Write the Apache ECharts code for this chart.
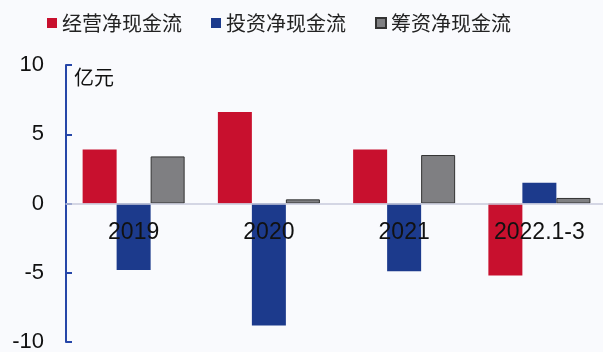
<!DOCTYPE html>
<html><head><meta charset="utf-8">
<script src="https://cdn.jsdelivr.net/npm/echarts@6/dist/echarts.min.js"></script>
<style>html,body{margin:0;padding:0;background:#f9fafd;}#c{width:603px;height:352px;}</style>
</head><body><div id="c"></div>
<script>
const categories = ['2019', '2020', '2021', '2022.1-3'];
const operating = [3.9, 6.6, 3.9, -5.2];
const investing = [-4.8, -8.8, -4.9, 1.5];
const financing = [3.4, 0.3, 3.5, 0.4];
const seriesNames = ['经营净现金流', '投资净现金流', '筹资净现金流'];
const yTicks = [-10, -5, 0, 5, 10];

const chart = echarts.init(document.getElementById('c'));
const font = '"Liberation Sans", Arial, sans-serif';
const cjk = '"Noto Sans CJK SC", sans-serif';
chart.setOption({
  backgroundColor: '#f9fafd',
  animation: false,
  legend: {
    left: 42, top: 8, itemWidth: 10, itemHeight: 10, itemGap: 29,
    icon: 'rect',
    textStyle: { fontFamily: cjk, fontSize: 20, color: '#222' },
    data: seriesNames
  },
  grid: { left: 66, top: 65, width: 541, height: 277, containLabel: false, outerBoundsMode: 'none' },
  xAxis: {
    type: 'category', data: categories, position: 'bottom', offset: -138.5, z: 10,
    axisLine: { onZero: false, lineStyle: { color: '#c8cadc', width: 1.5 } },
    axisTick: { show: false },
    axisLabel: { fontFamily: font, fontSize: 23, color: '#111', margin: 18 }
  },
  yAxis: {
    type: 'value', min: yTicks[0], max: yTicks[yTicks.length - 1], interval: 5,
    name: '亿元', nameLocation: 'end', nameGap: -22,
    nameTextStyle: { fontFamily: cjk, fontSize: 20, color: '#111', align: 'left', padding: [0, 0, 0, 8] },
    axisLine: { show: true, lineStyle: { color: '#2646a8', width: 2 } },
    axisTick: { show: true, inside: true, length: 6, lineStyle: { color: '#2646a8', width: 2 } },
    axisLabel: { fontFamily: font, fontSize: 22, color: '#111', margin: 22 },
    splitLine: { show: false }
  },
  series: [
    { name: seriesNames[0], type: 'bar', data: operating, barWidth: 34, barGap: '0%',
      itemStyle: { color: '#c8102e' } },
    { name: seriesNames[1], type: 'bar', data: investing, barWidth: 34, barGap: '0%',
      itemStyle: { color: '#1c3a8c' } },
    { name: seriesNames[2], type: 'bar', data: financing, barWidth: 34, barGap: '0%',
      itemStyle: { color: '#7f7f82', borderColor: '#333', borderWidth: 1 } }
  ]
});
</script></body></html>
